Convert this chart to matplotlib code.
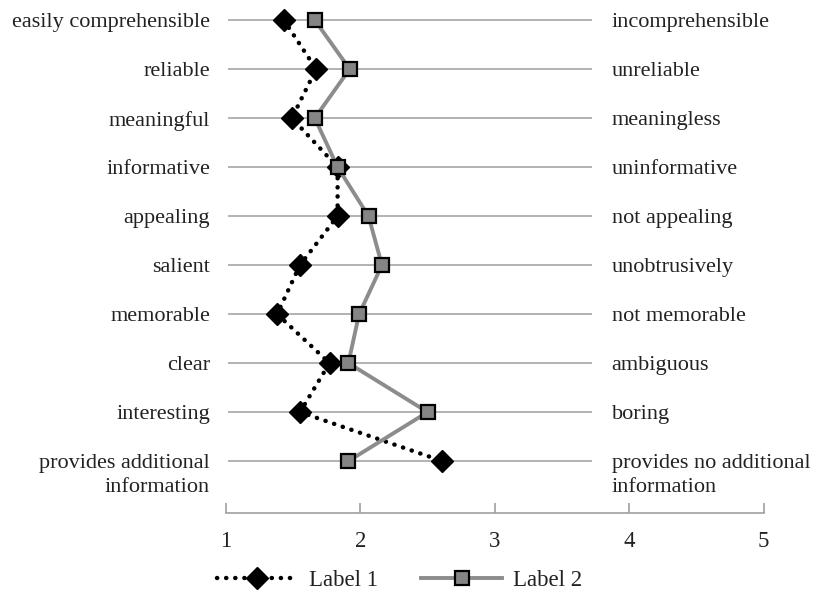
import matplotlib.pyplot as plt
from matplotlib.transforms import blended_transform_factory

plt.rcParams.update(
    {
        "font.family": ["Liberation Serif", "DejaVu Serif"],
        "font.size": 16,
    }
)

left_labels = [
    "easily comprehensible",
    "reliable",
    "meaningful",
    "informative",
    "appealing",
    "salient",
    "memorable",
    "clear",
    "interesting",
    "provides additional\ninformation",
]
right_labels = [
    "incomprehensible",
    "unreliable",
    "meaningless",
    "uninformative",
    "not appealing",
    "unobtrusively",
    "not memorable",
    "ambiguous",
    "boring",
    "provides no additional\ninformation",
]
label1 = [1.43, 1.67, 1.49, 1.83, 1.83, 1.55, 1.38, 1.77, 1.55, 2.61]
label2 = [1.66, 1.92, 1.66, 1.83, 2.06, 2.16, 1.99, 1.91, 2.50, 1.91]
xticks = [1, 2, 3, 4, 5]

rows = list(range(len(left_labels)))

fig = plt.figure(figsize=(8.31, 6.05), dpi=100)
ax = fig.add_axes([0.272, 0.152, 0.647, 0.848])

# horizontal guide lines (stop short of the right-hand labels)
ax.hlines(rows, 1.015, 3.72, color="#a6a6a6", lw=1.2, zorder=1)

ax.plot(
    label1,
    rows,
    color="black",
    lw=3.2,
    linestyle=(0, (0.05, 2.0)),
    dash_capstyle="round",
    marker="D",
    markersize=11,
    markerfacecolor="black",
    markeredgecolor="black",
    label="Label 1",
    zorder=3,
)
ax.plot(
    label2,
    rows,
    color="#8c8c8c",
    lw=2.8,
    marker="s",
    markersize=10.5,
    markerfacecolor="#858585",
    markeredgecolor="black",
    markeredgewidth=1.6,
    label="Label 2",
    zorder=4,
)

ax.set_xlim(1, 5)
ax.set_ylim(10.06, -0.41)
ax.set_xticks(xticks)
ax.set_yticks([])
for s in ["left", "right", "top"]:
    ax.spines[s].set_visible(False)
ax.spines["bottom"].set_color("#a0a0a0")
ax.spines["bottom"].set_linewidth(1.2)
ax.tick_params(axis="x", direction="in", length=7, width=1.2, color="#a0a0a0",
               pad=13, labelsize=16.5, labelcolor="#222222")

tr = blended_transform_factory(ax.transAxes, ax.transData)
for y, txt in zip(rows, left_labels):
    ax.annotate(txt, xy=(0, y), xycoords=tr, xytext=(-11.5, 5.0),
                textcoords="offset points", ha="right", va="top",
                color="#222222", linespacing=1.35)
for y, txt in zip(rows, right_labels):
    ax.annotate(txt, xy=(0.717, y), xycoords=tr, xytext=(0, 5.0),
                textcoords="offset points", ha="left", va="top",
                color="#222222", linespacing=1.35)

fig.legend(
    loc="center",
    bbox_to_anchor=(0.481, 0.041),
    ncol=2,
    frameon=False,
    handlelength=3.5,
    handletextpad=0.5,
    columnspacing=1.9,
    fontsize=16.5,
    labelcolor="#222222",
)

fig.savefig("out.png", dpi=100)
